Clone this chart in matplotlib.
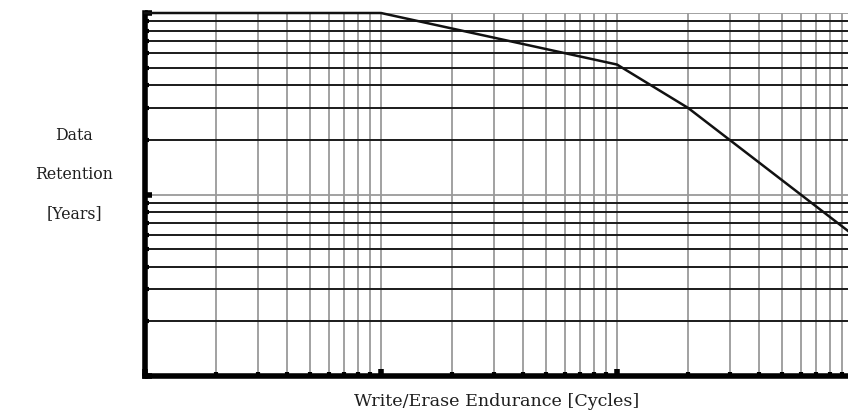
import matplotlib
matplotlib.use("Agg")
import matplotlib.pyplot as plt
import numpy as np
from matplotlib.ticker import LogLocator, NullFormatter

# curva de retención vs ciclos
endurance = [1e2, 1e3, 1e4, 2e4, 1e5]
retention = [100, 100, 52, 30, 6]

y_label_lines = ["Data", "Retention", "[Years]"]
x_label = "Write/Erase Endurance [Cycles]"

W, H = 848, 414
fig = plt.figure(figsize=(W / 100, H / 100), dpi=100)
ax = fig.add_axes([145 / W, (H - 377) / H, (848 - 145) / W, (377 - 14) / H])

ax.set_xscale("log")
ax.set_yscale("log")
ax.set_xlim(1e2, 10 ** (2 + 703 / 236))
ax.set_ylim(1, 100)

ax.xaxis.set_major_locator(LogLocator(base=10, numticks=10))
ax.xaxis.set_minor_locator(LogLocator(base=10, subs=np.arange(2, 10), numticks=20))
ax.yaxis.set_major_locator(LogLocator(base=10, numticks=10))
ax.yaxis.set_minor_locator(LogLocator(base=10, subs=np.arange(2, 10), numticks=20))
for a in (ax.xaxis, ax.yaxis):
    a.set_major_formatter(NullFormatter())
    a.set_minor_formatter(NullFormatter())

# rejilla: verticales grises, horizontales oscuras
ax.grid(True, which="both", axis="x", color="#9a9a9a", lw=1.3)
ax.grid(True, which="major", axis="y", color="#9a9a9a", lw=1.3)
ax.grid(True, which="minor", axis="y", color="#1a1a1a", lw=1.4)
ax.set_axisbelow(True)

ax.tick_params(which="both", direction="in", length=3, width=3, color="black")
ax.tick_params(which="major", length=5, width=4)

for s in ("top", "right"):
    ax.spines[s].set_visible(False)
for s in ("left", "bottom"):
    ax.spines[s].set_linewidth(4)
    ax.spines[s].set_color("black")

ax.plot(endurance, retention, color="#111111", lw=1.8, clip_on=False, zorder=5)

# etiquetas (texto serif, como en la figura original)
for i, line in enumerate(y_label_lines):
    fig.text(74 / W, 1 - (136 + 39 * i) / H, line, ha="center", va="center",
             family="DejaVu Serif", fontsize=11.3, color="#1e1e1e")
fig.text(497 / W, 1 - 402 / H, x_label, ha="center", va="center",
         family="DejaVu Serif", fontsize=12.6, color="#1e1e1e")

fig.savefig("out.png", dpi=100)
